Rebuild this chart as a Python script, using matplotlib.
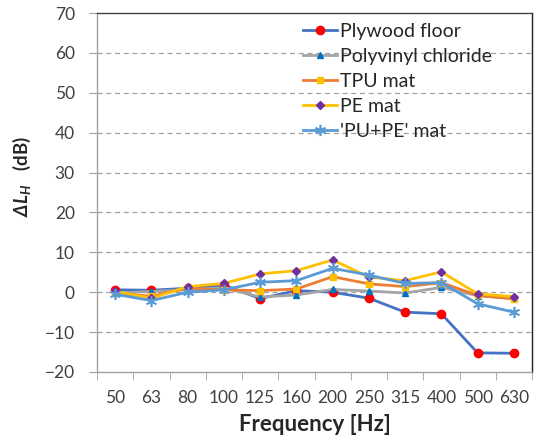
import matplotlib
matplotlib.use("Agg")
import matplotlib.pyplot as plt
import numpy as np

plt.rcParams['font.family'] = ['Lato', 'DejaVu Sans']
plt.rcParams['mathtext.fontset'] = 'custom'
plt.rcParams['mathtext.rm'] = 'Lato:italic:bold'
plt.rcParams['mathtext.it'] = 'Lato:italic:bold'
plt.rcParams['mathtext.bf'] = 'Lato:italic:bold'

frequencies = ["50", "63", "80", "100", "125", "160", "200", "250", "315", "400", "500", "630"]
plywood = [0.6, 0.5, 1.0, 1.8, -1.6, 0.4, 0.0, -1.5, -5.0, -5.4, -15.2, -15.3]
pvc = [-0.2, 0.2, 0.6, 1.1, -1.2, -0.7, 0.7, 0.3, -0.2, 1.2, -0.9, -1.5]
tpu = [-0.3, -1.0, 1.0, 0.6, 0.4, 0.8, 3.9, 2.1, 1.4, 2.4, -0.8, -1.7]
pe = [0.2, -1.5, 1.4, 2.2, 4.6, 5.4, 8.1, 3.8, 2.9, 5.1, -0.4, -1.1]
pupe = [-0.5, -2.1, 0.0, 0.6, 2.5, 2.9, 6.0, 4.3, 2.2, 2.4, -2.9, -5.0]

fig = plt.figure(figsize=(5.34, 4.42), dpi=100)
ax = fig.add_axes([97/534, 1 - 372/442, 435/534, 359/442])

x = np.arange(len(frequencies))
star = (6, 2, 0)
ax.plot(x, plywood, color='#4472C4', lw=2, marker='o', ms=6, mfc='#FF0000', mec='#FF0000', label='Plywood floor')
ax.plot(x, pvc, color='#A5A5A5', lw=2, marker='^', ms=5, mfc='#0070C0', mec='#0070C0', label='Polyvinyl chloride')
ax.plot(x, tpu, color='#ED7D31', lw=2, marker='s', ms=5, mfc='#FFC000', mec='#FFC000', label='TPU mat')
ax.plot(x, pe, color='#FFC000', lw=2, marker='D', ms=4, mfc='#7030A0', mec='#7030A0', label='PE mat')
ax.plot(x, pupe, color='#5B9BD5', lw=2, marker=star, ms=8, mfc='#5B9BD5', mec='#5B9BD5', mew=1.2, label="'PU+PE' mat")

ax.set_xlim(-0.5, len(frequencies) - 0.5)
ax.set_ylim(-20, 70)
ax.set_yticks(np.arange(-20, 71, 10))
ax.set_xticks(x)
ax.set_xticklabels(frequencies)
ax.set_xticks(np.arange(-0.5, len(frequencies), 1.0), minor=True)
ax.tick_params(axis='x', which='major', length=0, labelsize=12.5, pad=13)
ax.tick_params(axis='x', which='minor', length=6, color='#A0A0A0', direction='out')
ax.tick_params(axis='y', length=6, color='#A0A0A0', labelsize=12.5, pad=10)
for lab in ax.get_yticklabels() + ax.get_xticklabels():
    lab.set_color('#404040')

for v in range(-10, 70, 10):
    ax.axhline(v, color='#A0A0A0', lw=0.9, ls=(0, (4, 3)), zorder=0)

ax.spines['left'].set_color('#A0A0A0')
ax.spines['bottom'].set_color('#A0A0A0')
ax.spines['top'].set_color('#404040')
ax.spines['right'].set_color('#202020')
for s in ax.spines.values():
    s.set_linewidth(1.0)

ax.set_xlabel('Frequency [Hz]', fontsize=16, fontweight='bold', labelpad=6, color='#262626')
ax.set_ylabel(r'$\Delta L_H\ \ $ (dB)', fontsize=13.5, fontweight='bold', color='#262626')
ax.yaxis.set_label_coords(-0.147, 0.545)

leg = fig.legend(loc='upper left', bbox_to_anchor=(303/534, 1 - 23/442), frameon=False, fontsize=14,
                 handlelength=1.75, handletextpad=0.15, labelspacing=0.41, borderpad=0, borderaxespad=0)
for t in leg.get_texts():
    t.set_color('#262626')

fig.savefig('out.png', dpi=100)
